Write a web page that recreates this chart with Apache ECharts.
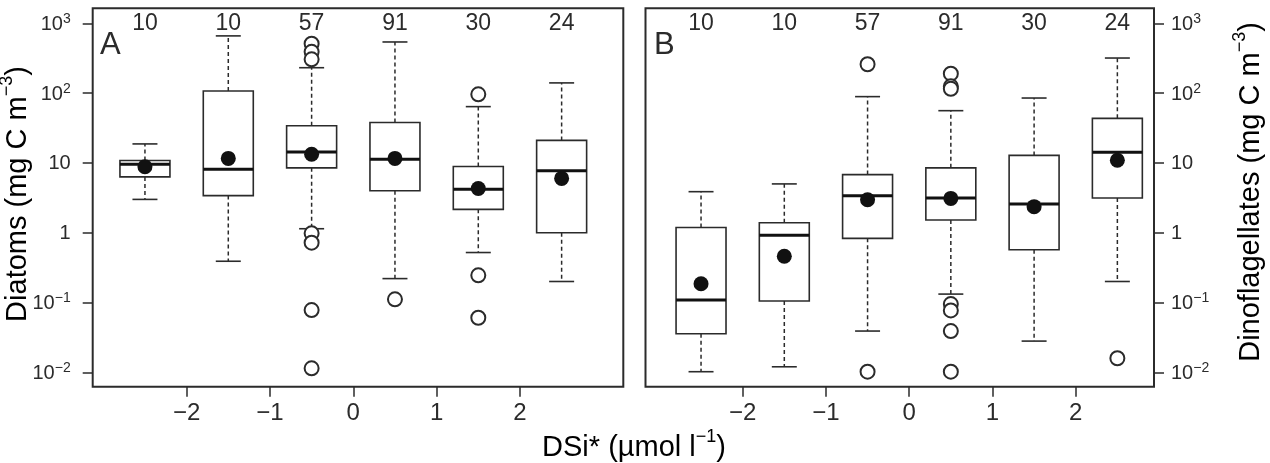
<!DOCTYPE html>
<html>
<head>
<meta charset="utf-8">
<script src="https://cdn.jsdelivr.net/npm/echarts@6/dist/echarts.min.js"></script>
<style>
  html, body { margin: 0; padding: 0; background: #fff; }
  #chart { width: 1270px; height: 463px; }
</style>
</head>
<body>
<div id="chart"></div>
<script>
// DSi* classes (box centres) and sample counts
const classPos = [-2.5, -1.5, -0.5, 0.5, 1.5, 2.5]
const counts = [10, 10, 57, 91, 30, 24]
const xTicks = [-2, -1, 0, 1, 2]
const yTicks = [0.01, 0.1, 1, 10, 100, 1000]

// Diatoms: [lower whisker, Q1, median, Q3, upper whisker]
const diatomBox = [
  [3.0, 6.3, 9.6, 10.8, 18.7],
  [0.39, 3.4, 8.1, 107, 660],
  [1.14, 8.5, 14.3, 34, 231],
  [0.22, 4.0, 11.3, 38, 540],
  [0.52, 2.16, 4.2, 8.9, 64],
  [0.2, 1.0, 7.7, 21, 140],
]
const diatomMean = [8.8, 11.6, 13.3, 11.6, 4.3, 6.0]
const diatomOutliers = [
  [],
  [],
  [510, 390, 305, 0.98, 0.72, 0.078, 0.0114],
  [0.111],
  [96, 0.245, 0.0605],
  [],
]

// Dinoflagellates
const dinoBox = [
  [0.0102, 0.0357, 0.109, 1.19, 3.87],
  [0.012, 0.105, 0.92, 1.39, 5.0],
  [0.039, 0.83, 3.39, 6.8, 89],
  [0.132, 1.52, 3.14, 8.5, 56],
  [0.028, 0.57, 2.58, 12.8, 85],
  [0.2, 3.14, 14.2, 43.5, 318],
]
const dinoMean = [0.186, 0.46, 2.97, 3.1, 2.36, 10.9]
const dinoOutliers = [
  [],
  [],
  [259, 0.0102],
  [190, 125, 115, 0.095, 0.077, 0.039, 0.0102],
  [],
  [0.0159],
]

const ink = '#2b2b2b'
const font = 'Liberation Sans, Arial, Helvetica, sans-serif'
const yMin = 0.00622
const yMax = 1640

let chart = echarts.init(document.getElementById('chart'))

// 把箱线数据拼成 custom 系列需要的格式
function boxData(boxes) {
  return boxes.map((b, i) => [classPos[i], ...b])
}
function pointData(vals) {
  return vals.map((v, i) => [classPos[i], v])
}
function outlierData(groups) {
  let out = []
  groups.forEach((g, i) => {
    g.forEach((v) => out.push([classPos[i], v]))
  })
  return out
}

function renderBox(params, api) {
  let x = api.value(0)
  let lo = api.value(1)
  let q1 = api.value(2)
  let med = api.value(3)
  let q3 = api.value(4)
  let hi = api.value(5)
  let pLo = api.coord([x, lo])
  let pHi = api.coord([x, hi])
  let pQ1 = api.coord([x, q1])
  let pQ3 = api.coord([x, q3])
  let pMed = api.coord([x, med])
  let left = api.coord([x - 0.3, med])[0]
  let right = api.coord([x + 0.3, med])[0]
  let capL = api.coord([x - 0.15, med])[0]
  let capR = api.coord([x + 0.15, med])[0]
  let dashed = { stroke: ink, lineWidth: 1.5, lineDash: [4, 3], fill: null }
  let solid = { stroke: ink, lineWidth: 1.6, fill: null }
  return {
    type: 'group',
    children: [
      { type: 'line', shape: { x1: pQ3[0], y1: pQ3[1], x2: pHi[0], y2: pHi[1] }, style: dashed },
      { type: 'line', shape: { x1: pQ1[0], y1: pQ1[1], x2: pLo[0], y2: pLo[1] }, style: dashed },
      { type: 'line', shape: { x1: capL, y1: pHi[1], x2: capR, y2: pHi[1] }, style: solid },
      { type: 'line', shape: { x1: capL, y1: pLo[1], x2: capR, y2: pLo[1] }, style: solid },
      {
        type: 'rect',
        shape: { x: left, y: pQ3[1], width: right - left, height: pQ1[1] - pQ3[1] },
        style: { stroke: ink, lineWidth: 1.6, fill: '#fff' },
      },
      { type: 'line', shape: { x1: left, y1: pMed[1], x2: right, y2: pMed[1] }, style: { stroke: '#111', lineWidth: 3 } },
    ],
  }
}

function fmtX(v) {
  return v < 0 ? '−' + -v : String(v)
}
function fmtY(v) {
  let e = Math.round(Math.log10(v))
  if (e === 0) return '{b|1}'
  if (e === 1) return '{b|10}'
  return '{b|10}{s|' + (e < 0 ? '−' + -e : e) + '}'
}
function fmtCount(v) {
  let i = classPos.findIndex((p) => Math.abs(p - v) < 1e-6)
  return i >= 0 ? String(counts[i]) : ''
}

const yRich = {
  b: { fontSize: 20, lineHeight: 22, color: ink, fontFamily: font, verticalAlign: 'bottom' },
  s: { fontSize: 14, lineHeight: 12, color: ink, fontFamily: font, verticalAlign: 'top' },
}

function bottomAxis(grid, min, max) {
  return {
    gridIndex: grid,
    type: 'value',
    min: min,
    max: max,
    axisLine: { show: false, onZero: false },
    splitLine: { show: false },
    axisTick: { customValues: xTicks, length: 10, lineStyle: { color: ink, width: 1.5 } },
    axisLabel: { customValues: xTicks, formatter: fmtX, fontSize: 24, color: ink, margin: 15, fontFamily: font },
  }
}
function topAxis(grid, min, max) {
  return {
    gridIndex: grid,
    type: 'value',
    position: 'top',
    min: min,
    max: max,
    axisLine: { show: false, onZero: false },
    splitLine: { show: false },
    axisTick: { show: false },
    axisLabel: { customValues: classPos, formatter: fmtCount, inside: true, fontSize: 23, color: ink, margin: 4, fontFamily: font },
  }
}
function logAxis(grid, pos, margin) {
  return {
    gridIndex: grid,
    type: 'log',
    logBase: 10,
    position: pos,
    min: yMin,
    max: yMax,
    axisLine: { show: false, onZero: false },
    splitLine: { show: false },
    axisTick: { customValues: yTicks, length: 10, lineStyle: { color: ink, width: 1.5 } },
    axisLabel: { customValues: yTicks, formatter: fmtY, rich: yRich, margin: margin },
  }
}

function seriesFor(grid, boxes, means, outliers) {
  return [
    {
      type: 'custom',
      xAxisIndex: grid * 2,
      yAxisIndex: grid,
      renderItem: renderBox,
      encode: { x: 0, y: [1, 2, 3, 4, 5] },
      data: boxData(boxes),
      z: 2,
    },
    {
      type: 'scatter',
      xAxisIndex: grid * 2,
      yAxisIndex: grid,
      symbol: 'emptyCircle',
      symbolSize: 14,
      itemStyle: { color: ink, borderColor: ink, borderWidth: 1.4, opacity: 1 },
      data: outlierData(outliers),
      z: 3,
    },
    {
      type: 'scatter',
      xAxisIndex: grid * 2,
      yAxisIndex: grid,
      symbol: 'circle',
      symbolSize: 15,
      itemStyle: { color: '#111', opacity: 1 },
      data: pointData(means),
      z: 4,
    },
  ]
}

const titleRich = {
  t: { fontSize: 29, fontFamily: font, color: ink, lineHeight: 34, verticalAlign: 'bottom' },
  s: { fontSize: 18, fontFamily: font, color: ink, lineHeight: 18, verticalAlign: 'top' },
}

let option = {
  animation: false,
  backgroundColor: '#fff',
  grid: [
    { left: 92.7, top: 8.3, width: 530.6, height: 378.4, show: true, borderColor: ink, borderWidth: 2, backgroundColor: 'transparent' },
    { left: 645.5, top: 8.3, width: 508.5, height: 378.4, show: true, borderColor: ink, borderWidth: 2, backgroundColor: 'transparent' },
  ],
  xAxis: [
    bottomAxis(0, -3.127, 3.24),
    topAxis(0, -3.127, 3.24),
    bottomAxis(1, -3.167, 2.94),
    topAxis(1, -3.167, 2.94),
  ],
  yAxis: [logAxis(0, 'left', 22), logAxis(1, 'right', 17)],
  series: [
    ...seriesFor(0, diatomBox, diatomMean, diatomOutliers),
    ...seriesFor(1, dinoBox, dinoMean, dinoOutliers),
  ],
  graphic: [
    { type: 'text', x: 100, y: 45, style: { text: 'A', font: '31px ' + font, fill: ink, verticalAlign: 'middle' } },
    { type: 'text', x: 654, y: 45, style: { text: 'B', font: '31px ' + font, fill: ink, verticalAlign: 'middle' } },
    {
      type: 'text',
      x: 634,
      y: 445,
      style: { text: '{t|DSi* (µmol l}{s|−1}{t|)}', rich: titleRich, align: 'center', verticalAlign: 'middle' },
    },
    {
      type: 'text',
      x: 15,
      y: 194,
      rotation: Math.PI / 2,
      style: { text: '{t|Diatoms (mg C m}{s|−3}{t|)}', rich: titleRich, align: 'center', verticalAlign: 'middle' },
    },
    {
      type: 'text',
      x: 1248,
      y: 192,
      rotation: Math.PI / 2,
      style: { text: '{t|Dinoflagellates (mg C m}{s|−3}{t|)}', rich: titleRich, align: 'center', verticalAlign: 'middle' },
    },
  ],
}

chart.setOption(option)
</script>
</body>
</html>
